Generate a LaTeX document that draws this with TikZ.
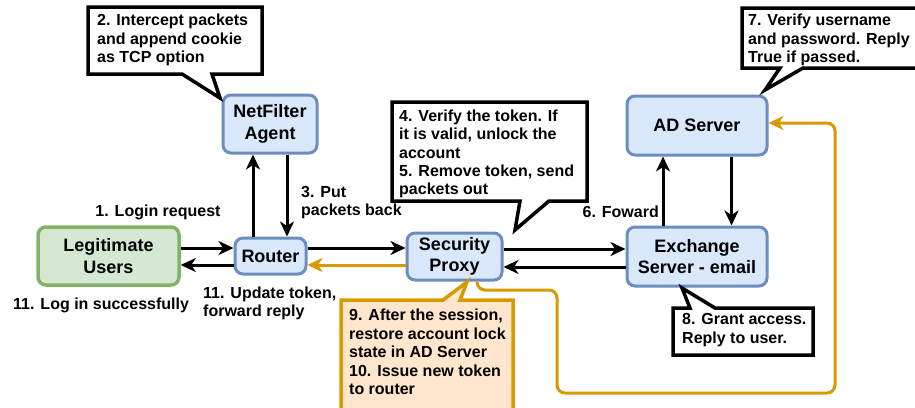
\documentclass[tikz,border=0pt]{standalone}
\usepackage{fontspec}
\setmainfont{Liberation Sans}
\usetikzlibrary{arrows.meta}
\definecolor{bfill}{HTML}{DAE8FC}
\definecolor{bline}{HTML}{6C8EBF}
\definecolor{gfill}{HTML}{D5E8D4}
\definecolor{gline}{HTML}{82B366}
\definecolor{oline}{HTML}{D79B00}
\definecolor{ofill}{HTML}{FFE6CC}
\newcommand\smallfnt{\fontsize{16}{18.4}\selectfont\bfseries}
\newcommand\bigfnt{\fontsize{18}{21.6}\selectfont\bfseries}
\tikzset{
  box/.style={draw=bline, fill=bfill, line width=3pt, rounded corners=8pt, inner sep=0pt, align=center, font=\bigfnt},
  gbox/.style={box, draw=gline, fill=gfill, line width=3.5pt},
  arr/.style={line width=3pt, -{Stealth[length=15pt,width=14pt,inset=4.5pt]}},
  oarr/.style={arr, draw=oline, color=oline},
  callout/.style={draw=black, fill=white, line width=3.5pt, line join=miter},
  ocallout/.style={draw=oline, fill=ofill, line width=3.5pt, line join=miter},
  ctext/.style={inner sep=0pt, anchor=west, align=left, font=\smallfnt},
  lbl/.style={inner sep=0pt, align=left, font=\smallfnt}
}
\begin{document}
\begin{tikzpicture}[x=1pt,y=-1pt]
\useasboundingbox (0,0) rectangle (915,407);
% nodes
\node[gbox, minimum width=141pt, minimum height=58pt] (users) at (108.5,256) {Legitimate\\Users};
\node[box, minimum width=71pt, minimum height=36pt] (router) at (270.5,256) {Router};
\node[box, minimum width=94pt, minimum height=58pt] (netf) at (270,124) {NetFilter\\Agent};
\node[box, minimum width=95pt, minimum height=47pt] (proxy) at (454.5,256.5) {Security\\Proxy};
\node[box, minimum width=140pt, minimum height=59pt] (exch) at (697,256.5) {Exchange\\Server - email};
\node[box, minimum width=140pt, minimum height=59pt] (ad) at (697,125.5) {AD Server};
% connectors
\draw[arr] ([yshift=8pt]users.east) -- ([yshift=8pt]router.west);
\draw[arr] ([yshift=-9pt]router.west) -- ([yshift=-9pt]users.east);
\draw[arr] ([xshift=-17.5pt]router.north) -- ([xshift=-17pt]netf.south);
\draw[arr] ([xshift=17pt]netf.south) -- ([xshift=16.5pt]router.north);
\draw[arr] ([yshift=8pt]router.east) -- ([yshift=8.5pt]proxy.west);
\draw[oarr] ([yshift=-8.5pt]proxy.west) -- ([yshift=-9pt]router.east);
\draw[arr] ([yshift=7.5pt]proxy.east) -- ([yshift=7.5pt]exch.west);
\draw[arr] ([yshift=-10.5pt]exch.west) -- ([yshift=-10.5pt]proxy.east);
\draw[arr] ([xshift=-34pt]exch.north) -- ([xshift=-34pt]ad.south);
\draw[arr] ([xshift=34.5pt]ad.south) -- ([xshift=34.5pt]exch.north);
\coordinate (o1) at (557,290);
\coordinate (o2) at (835,393);
\draw[oarr, rounded corners=8pt] ([xshift=22.5pt]proxy.south) |- (o1) |- (o2) |- ([yshift=2.5pt]ad.east);
% labels
\node[lbl] (l1) at (158,212) {1. Login request};
\node[lbl, anchor=west] (l3) at (301,202.5) {3. Put\\packets back};
\node[lbl, anchor=east] (l6) at (659,212) {6. Foward};
\node[lbl, anchor=west] (l11a) at (13,305) {11. Log in successfully};
\node[lbl, anchor=west] (l11b) at (203,303.5) {11. Update token,\\forward reply};
% callouts
\draw[callout] (88,7) -- (262,7) -- (262,74) -- (212,74) -- (220,98) -- (182,74) -- (88,74) -- cycle;
\node[ctext] (c2) at (97,40) {2. Intercept packets\\and append cookie\\as TCP option};
\draw[callout] (392,102) -- (587,102) -- (587,201) -- (549,201) -- (515,230) -- (520,201) -- (392,201) -- cycle;
\node[ctext] (c45) at (399,154) {4. Verify the token. If\\it is valid, unlock the\\account\\5. Remove token, send\\packets out};
\draw[callout] (742,8) -- (925,8) -- (925,68) -- (803,68) -- (765,90) -- (780,68) -- (742,68) -- cycle;
\node[ctext] (c7) at (748,40) {7. Verify username\\and password. Reply\\True if passed.};
\draw[callout] (673,308) -- (690,308) -- (682,288) -- (715,308) -- (813,308) -- (813,355) -- (673,355) -- cycle;
\node[ctext] (c8) at (682,330) {8. Grant access.\\Reply to user.};
\draw[ocallout] (341,300) -- (443,300) -- (467,282) -- (460,300) -- (513,300) -- (513,420) -- (341,420) -- cycle;
\node[ctext] (c910) at (349,352) {9. After the session,\\restore account lock\\state in AD Server\\10. Issue new token\\to router};
\end{tikzpicture}
\end{document}
